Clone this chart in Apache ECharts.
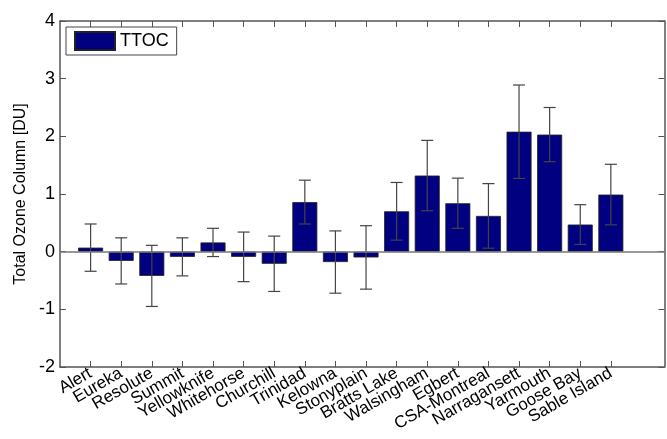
<!DOCTYPE html>
<html>
<head>
<meta charset="utf-8">
<script src="https://cdn.jsdelivr.net/npm/echarts@6/dist/echarts.min.js"></script>
<style>
  html, body { margin: 0; padding: 0; background: #fff; }
  #chart { width: 667px; height: 439px; }
</style>
</head>
<body>
<div id="chart"></div>
<script>
// station names along the x axis
const stations = ['Alert', 'Eureka', 'Resolute', 'Summit', 'Yellowknife', 'Whitehorse',
  'Churchill', 'Trinidad', 'Kelowna', 'Stonyplain', 'Bratts Lake', 'Walsingham',
  'Egbert', 'CSA-Montreal', 'Narragansett', 'Yarmouth', 'Goose Bay', 'Sable Island']
// TTOC difference [DU]
const ttoc = [0.07, -0.16, -0.42, -0.09, 0.16, -0.09, -0.21, 0.86, -0.18, -0.1,
  0.7, 1.32, 0.84, 0.62, 2.08, 2.03, 0.47, 0.99]
// half length of the error bars [DU]
const errHalf = [0.41, 0.4, 0.53, 0.33, 0.245, 0.43, 0.48, 0.38, 0.54, 0.55,
  0.5, 0.61, 0.435, 0.56, 0.81, 0.47, 0.345, 0.525]
const yTicks = [-2, -1, 0, 1, 2, 3, 4]

const xMax = 19.75
const positions = stations.map((s, i) => i + 1)
// empty labels at the axis ends keep ECharts from hiding the first/last names
const labelPositions = [0].concat(positions, [xMax])
const barData = ttoc.map((v, i) => [positions[i], v])
const errData = ttoc.map((v, i) => [positions[i], v - errHalf[i], v + errHalf[i]])

const axisColor = '#555'
const chart = echarts.init(document.getElementById('chart'))

const option = {
  animation: false,
  textStyle: { fontFamily: 'Liberation Sans, Arial, sans-serif' },
  grid: { left: 60, top: 21, width: 608, bottom: 72 },
  legend: {
    left: 66, top: 27,
    data: [{ name: 'TTOC', icon: 'rect' }],
    itemWidth: 40, itemHeight: 18, itemGap: 6,
    borderColor: '#444', borderWidth: 1,
    padding: [4, 8, 4, 8],
    textStyle: { fontSize: 18, color: '#000' }
  },
  xAxis: [
    {
      type: 'value', min: 0, max: xMax, position: 'bottom',
      splitLine: { show: false },
      axisLine: { onZero: false, lineStyle: { color: axisColor, width: 1.5 } },
      axisTick: { inside: true, length: 6, customValues: positions, lineStyle: { color: axisColor } },
      axisLabel: {
        customValues: labelPositions, rotate: 30, margin: 5,
        hideOverlap: false,
        fontSize: 17, color: '#000',
        formatter: v => (Number.isInteger(v) && stations[v - 1]) || ''
      }
    },
    {
      type: 'value', min: 0, max: xMax, position: 'top',
      splitLine: { show: false },
      axisLine: { onZero: false, lineStyle: { color: axisColor, width: 1.5 } },
      axisTick: { inside: true, length: 6, customValues: positions, lineStyle: { color: axisColor } },
      axisLabel: { show: false }
    }
  ],
  yAxis: [
    {
      type: 'value', min: -2, max: 4, interval: 1, position: 'left',
      name: 'Total Ozone Column [DU]', nameLocation: 'middle', nameGap: 30,
      nameTextStyle: { fontSize: 16, color: '#000' },
      splitLine: { show: false },
      axisLine: { show: true, onZero: false, lineStyle: { color: axisColor, width: 1.5 } },
      axisTick: { show: true, inside: true, length: 6, lineStyle: { color: axisColor } },
      axisLabel: {
        fontSize: 18, color: '#000', margin: 5,
        customValues: yTicks,
        formatter: v => String(v)
      }
    },
    {
      type: 'value', min: -2, max: 4, interval: 1, position: 'right',
      splitLine: { show: false },
      axisLine: { show: true, onZero: false, lineStyle: { color: axisColor, width: 1.5 } },
      axisTick: { show: true, inside: true, length: 6, lineStyle: { color: axisColor } },
      axisLabel: { show: false }
    }
  ],
  series: [
    {
      name: 'TTOC',
      type: 'bar',
      xAxisIndex: 0, yAxisIndex: 0,
      barWidth: 25,
      data: barData,
      itemStyle: { color: '#000080', borderColor: '#222', borderWidth: 0.8 },
      markLine: {
        silent: true, symbol: 'none', label: { show: false },
        lineStyle: { color: '#777', type: 'solid', width: 1.5 },
        data: [{ yAxis: 0 }]
      },
      z: 2
    },
    {
      name: 'error',
      type: 'custom',
      xAxisIndex: 0, yAxisIndex: 0,
      data: errData,
      z: 3,
      renderItem: (params, api) => {
        const x = api.value(0)
        const lo = api.coord([x, api.value(1)])
        const hi = api.coord([x, api.value(2)])
        const cap = 6
        const style = { stroke: '#444', lineWidth: 1.2 }
        return {
          type: 'group',
          children: [
            { type: 'line', shape: { x1: hi[0], y1: hi[1], x2: lo[0], y2: lo[1] }, style },
            { type: 'line', shape: { x1: hi[0] - cap, y1: hi[1], x2: hi[0] + cap, y2: hi[1] }, style },
            { type: 'line', shape: { x1: lo[0] - cap, y1: lo[1], x2: lo[0] + cap, y2: lo[1] }, style }
          ]
        }
      }
    }
  ]
}
chart.setOption(option)
</script>
</body>
</html>
